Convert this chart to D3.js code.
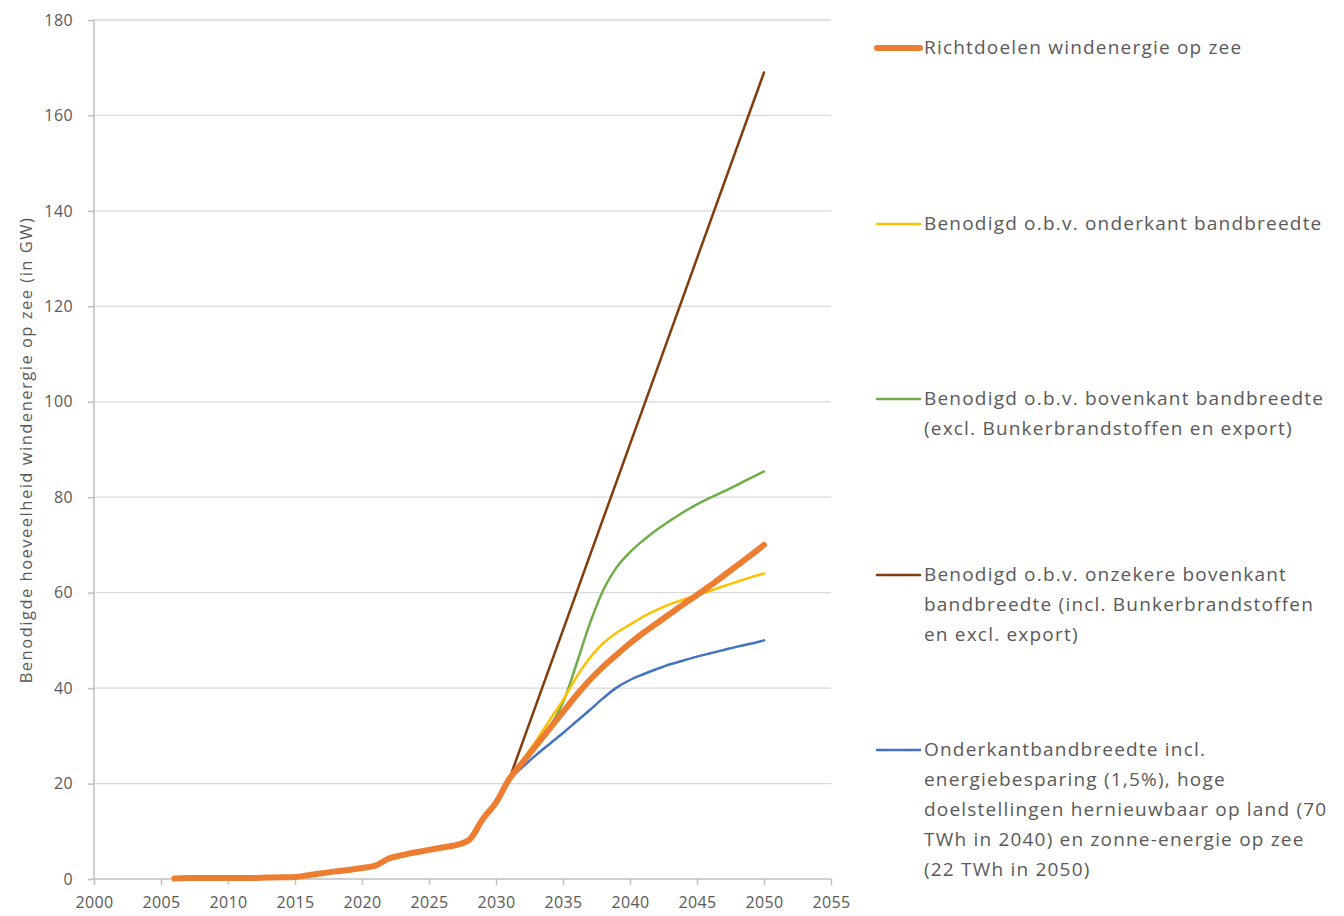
<!DOCTYPE html>
<html><head><meta charset="utf-8">
<script src="https://cdn.jsdelivr.net/npm/d3@7"></script>
<style>body{margin:0;background:#fff;} text{font-family:"Open Sans",Lato,sans-serif;}</style>
</head><body>
<svg id="c" width="1344" height="916"></svg>
<script>
const xTicks = [2000,2005,2010,2015,2020,2025,2030,2035,2040,2045,2050,2055];
const yTicks = [0,20,40,60,80,100,120,140,160,180];

const yearsHist = [2006,2007,2008,2009,2010,2011,2012,2013,2014,2015,2016,2017,2018,2019,2020,2021,2022,2023,2024,2025,2026,2027,2028,2029,2030,2031];
const richtHist = [0.1,0.2,0.2,0.2,0.2,0.2,0.2,0.3,0.35,0.4,0.8,1.2,1.6,1.9,2.3,2.8,4.3,5.0,5.6,6.1,6.6,7.1,8.2,12.5,16,21];
const yearsFut = [2031,2032,2033,2034,2035,2036,2037,2038,2039,2040,2041,2042,2043,2044,2045,2046,2047,2048,2049,2050];
const richtFut = [21,24.5,28,31.5,35,38.5,41.7,44.5,47,49.4,51.6,53.6,55.6,57.6,59.5,61.5,63.6,65.7,67.8,70];
const onderkant = [21,25,29,33.3,37.5,42.3,46.3,49.4,51.6,53.3,55,56.4,57.6,58.6,59.5,60.4,61.4,62.3,63.2,64];
const bovenkant = [21,24.3,27.7,31.8,37,45,53.5,60.5,65.3,68.5,71,73.2,75.1,76.9,78.5,79.9,81.2,82.6,84,85.4];
const onzekerYears = [2031,2050];
const onzeker = [21,169];
const besparing = [21,23.5,26,28.3,30.6,33,35.4,37.9,40.1,41.7,42.9,44,45,45.8,46.6,47.3,48,48.7,49.3,50];

const legendLabels = [
  ["Richtdoelen windenergie op zee"],
  ["Benodigd o.b.v. onderkant bandbreedte"],
  ["Benodigd o.b.v. bovenkant bandbreedte","(excl. Bunkerbrandstoffen en export)"],
  ["Benodigd o.b.v. onzekere bovenkant","bandbreedte (incl. Bunkerbrandstoffen","en excl. export)"],
  ["Onderkantbandbreedte incl.","energiebesparing (1,5%), hoge","doelstellingen hernieuwbaar op land (70","TWh in 2040) en zonne-energie op zee","(22 TWh in 2050)"]
];
const yTitle = "Benodigde hoeveelheid windenergie op zee  (in GW)";

const colors = {richt:"#ED7D31", onder:"#FFC000", boven:"#70AD47", onzeker:"#843C0C", bespar:"#4472C4"};

const svg = d3.select("#c");
const x = d3.scaleLinear().domain([2000,2055]).range([94,831]);
const y = d3.scaleLinear().domain([0,180]).range([879,20]);

// grid
svg.append("g").selectAll("line").data(yTicks.filter(d=>d>0)).join("line")
  .attr("x1",94).attr("x2",831).attr("y1",d=>y(d)).attr("y2",d=>y(d))
  .attr("stroke","#d9d9d9").attr("stroke-width",1.3);

// axes
const yAxis = d3.axisLeft(y).tickValues(yTicks).tickSize(6).tickPadding(15).tickFormat(d3.format("d"));
const gy = svg.append("g").attr("transform","translate(94,0)").call(yAxis);
const xAxis = d3.axisBottom(x).tickValues(xTicks).tickSize(6).tickPadding(12).tickFormat(d3.format("d"));
const gx = svg.append("g").attr("transform","translate(0,879)").call(xAxis);
[gx,gy].forEach(g=>{
  g.select(".domain").attr("stroke","#bfbfbf").attr("stroke-width",1.5);
  g.selectAll(".tick line").attr("stroke","#bfbfbf").attr("stroke-width",1.5);
  g.selectAll(".tick text").attr("fill","#595959").attr("font-size",16).attr("letter-spacing",0.4)
    .attr("font-family","'Open Sans', sans-serif");
});
gy.select(".domain").attr("d","M0,879V20");
gx.select(".domain").attr("d","M94,0H831");

// y title
svg.append("text").attr("transform","translate(32,450) rotate(-90)").attr("text-anchor","middle")
  .attr("fill","#595959").attr("font-size",16.5).attr("letter-spacing",1.5).text(yTitle);

const zip = (a,b)=>a.map((v,i)=>[v,b[i]]);
const series = [
  {d:zip(onzekerYears,onzeker), c:colors.onzeker, w:2.5, curve:d3.curveLinear},
  {d:zip(yearsFut,bovenkant), c:colors.boven, w:2.5},
  {d:zip(yearsFut,onderkant), c:colors.onder, w:2.5},
  {d:zip(yearsFut,besparing), c:colors.bespar, w:2.5},
  {d:zip(yearsHist.concat(yearsFut.slice(1)),richtHist.concat(richtFut.slice(1))), c:colors.richt, w:6}
];
series.forEach(s=>{
  const l = d3.line().x(d=>x(d[0])).y(d=>y(d[1])).curve(s.curve || d3.curveCatmullRom.alpha(0.5));
  svg.append("path").attr("d",l(s.d)).attr("fill","none").attr("stroke",s.c)
    .attr("stroke-width",s.w).attr("stroke-linecap","round").attr("stroke-linejoin","round");
});

// legend
const legY = [48,224,399,575,750];
const legC = [colors.richt,colors.onder,colors.boven,colors.onzeker,colors.bespar];
const legW = [6,2.5,2.5,2.5,2.5];
legendLabels.forEach((lines,i)=>{
  svg.append("line").attr("x1",877).attr("x2",920).attr("y1",legY[i]).attr("y2",legY[i])
    .attr("stroke",legC[i]).attr("stroke-width",legW[i]).attr("stroke-linecap","round");
  const t = svg.append("text").attr("x",924).attr("y",legY[i]+6).attr("fill","#595959")
    .attr("font-size",19).attr("letter-spacing",1.2);
  lines.forEach((s,j)=>t.append("tspan").attr("x",924).attr("dy",j?30:0).text(s));
});
</script>
</body></html>
